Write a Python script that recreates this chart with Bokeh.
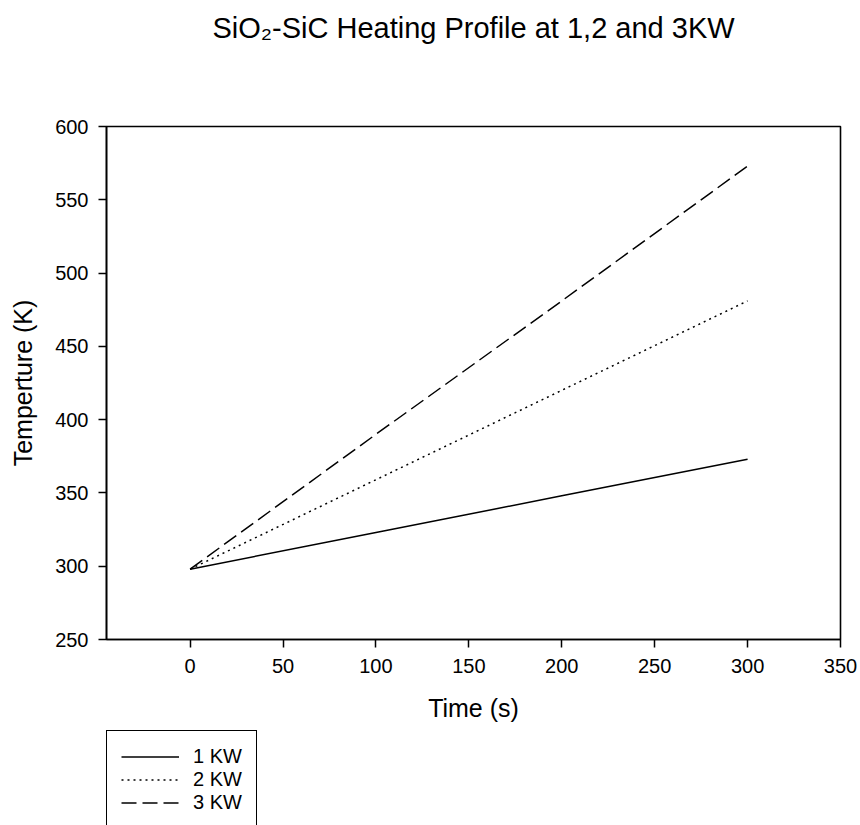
from bokeh.plotting import figure
from bokeh.models import Range1d, FixedTicker, Legend, LegendItem, LinearAxis
from bokeh.layouts import column
from bokeh.embed import file_html
from bokeh.resources import INLINE

# ---- data ----
time_s = [0, 100, 200, 300]
temp_1kw = [298, 323, 348, 373]
temp_2kw = [298, 359, 420, 481]
temp_3kw = [298, 390, 481, 573]
series_labels = ["1 KW", "2 KW", "3 KW"]
x_ticks = [0, 50, 100, 150, 200, 250, 300, 350]
y_ticks = [250, 300, 350, 400, 450, 500, 550, 600]
title_text = "SiO\u2082-SiC Heating Profile at 1,2 and 3KW"

FONT = "Liberation Sans"
DASHES = [None, "2 4", "15 6"]
SERIES = [temp_1kw, temp_2kw, temp_3kw]

p = figure(width=860, height=730, output_backend="svg", toolbar_location=None,
           x_range=Range1d(-45, 350), y_range=Range1d(250, 600),
           min_border_left=106, min_border_right=20, min_border_top=126,
           min_border_bottom=91)
p.title = None

p.background_fill_color = "white"
p.border_fill_color = "white"
p.outline_line_color = "black"
p.outline_line_width = 1.6
p.xgrid.visible = False
p.ygrid.visible = False

for ax in (p.xaxis[0], p.yaxis[0]):
    ax.axis_line_color = "black"
    ax.axis_line_width = 1.6
    ax.major_tick_line_color = "black"
    ax.major_tick_line_width = 1.5
    ax.major_tick_in = 0
    ax.major_tick_out = 8
    ax.minor_tick_line_color = None
    ax.major_label_text_font = FONT
    ax.major_label_text_font_size = "20px"
    ax.major_label_text_color = "black"
    ax.axis_label_text_font = FONT
    ax.axis_label_text_font_size = "25px"
    ax.axis_label_text_font_style = "normal"
    ax.axis_label_text_color = "black"

p.xaxis.ticker = FixedTicker(ticks=x_ticks)
p.yaxis.ticker = FixedTicker(ticks=y_ticks)
p.xaxis.axis_label = "Time (s)"
p.yaxis.axis_label = "Temperture (K)"
p.xaxis.major_label_standoff = 11
p.yaxis.major_label_standoff = 10
p.xaxis.axis_label_standoff = 18
p.yaxis.axis_label_standoff = 15

# chart title, drawn as the label of a bare axis above the frame
title_axis = LinearAxis(ticker=FixedTicker(ticks=[]), axis_label=title_text,
                        axis_line_color=None, major_tick_line_color=None,
                        minor_tick_line_color=None, major_tick_in=0, major_tick_out=0,
                        major_label_standoff=0, axis_label_standoff=83,
                        axis_label_text_font=FONT, axis_label_text_font_size="29px",
                        axis_label_text_font_style="normal", axis_label_text_color="black")
p.add_layout(title_axis, "above")

for ys, dash in zip(SERIES, DASHES):
    kw = {} if dash is None else {"line_dash": dash}
    p.line(time_s, ys, line_color="black", line_width=1.5, **kw)

# ---- legend strip below the chart (same series, drawn outside its view) ----
q = figure(width=860, height=95, output_backend="svg", toolbar_location=None,
           x_range=Range1d(1000, 1001), y_range=Range1d(1000, 1001),
           x_axis_location=None, y_axis_location=None,
           min_border_left=106, min_border_right=20, min_border_top=0,
           min_border_bottom=0)
q.title = None
q.outline_line_color = None
q.xgrid.visible = False
q.ygrid.visible = False
q.background_fill_color = "white"
q.border_fill_color = "white"

items = []
for ys, dash, lab in zip(SERIES, DASHES, series_labels):
    kw = {} if dash is None else {"line_dash": dash}
    r = q.line(time_s, ys, line_color="black", line_width=1.5, **kw)
    items.append(LegendItem(label=lab, renderers=[r]))

legend = Legend(items=items, location="top_left", orientation="vertical", margin=0,
                padding=14, spacing=0, glyph_width=58, glyph_height=23,
                label_height=23, label_width=44, label_standoff=14,
                label_text_font=FONT, label_text_font_size="20px",
                label_text_color="black", border_line_color="black",
                border_line_alpha=1.0, border_line_width=1.6,
                background_fill_color="white", background_fill_alpha=1.0)
q.add_layout(legend, "center")

layout = column(p, q, spacing=0)
open("out.html", "w").write(file_html(layout, INLINE))
